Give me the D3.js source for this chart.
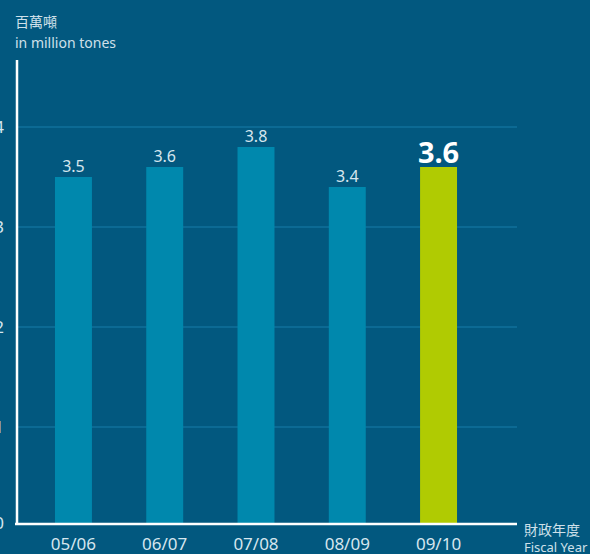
<!DOCTYPE html>
<html>
<head>
<meta charset="utf-8">
<script src="https://cdn.jsdelivr.net/npm/d3@7"></script>
<style>
  html, body { margin: 0; padding: 0; background: #02587f; }
  svg { display: block; font-family: "Noto Sans", "Noto Sans CJK TC", sans-serif; }
</style>
</head>
<body>
<svg width="590" height="554"></svg>
<script>
const years = ["05/06", "06/07", "07/08", "08/09", "09/10"];
const values = [3.5, 3.6, 3.8, 3.4, 3.6];
const yTicks = [0, 1, 2, 3, 4];

const svg = d3.select("svg");

const x = d3.scaleBand()
    .domain(years)
    .range([18, 494])
    .paddingInner(0.595)
    .paddingOuter(0.405);

const y = d3.scaleLinear()
    .domain([0, 4])
    .range([527, 127]);

// bars stop at the x axis line
svg.append("clipPath")
    .attr("id", "plot")
    .append("rect")
    .attr("x", 0).attr("y", 0)
    .attr("width", 590).attr("height", 523);

// grid lines
svg.append("g")
    .selectAll("line")
    .data(yTicks.filter(d => d > 0))
    .join("line")
    .attr("x1", 18)
    .attr("x2", 517)
    .attr("y1", d => y(d))
    .attr("y2", d => y(d))
    .attr("stroke", "#0c6a94")
    .attr("stroke-width", 2);

// y tick labels (mostly cut off at the left edge)
svg.append("g")
    .selectAll("text")
    .data(yTicks)
    .join("text")
    .attr("x", 4)
    .attr("y", d => Math.min(y(d), 523) + 6)
    .attr("text-anchor", "end")
    .attr("fill", "#d6e6ee")
    .attr("font-size", 17)
    .text(d => d);

// bars
svg.append("g")
    .attr("clip-path", "url(#plot)")
    .selectAll("rect")
    .data(values)
    .join("rect")
    .attr("x", (d, i) => x(years[i]))
    .attr("width", x.bandwidth())
    .attr("y", d => y(d))
    .attr("height", d => y(0) - y(d))
    .attr("fill", (d, i) => i === values.length - 1 ? "#b0cb02" : "#0088ad");

// value labels
svg.append("g")
    .selectAll("text")
    .data(values)
    .join("text")
    .attr("x", (d, i) => x(years[i]) + x.bandwidth() / 2)
    .attr("y", (d, i) => i === values.length - 1 ? y(d) - 4 : y(d) - 5)
    .attr("text-anchor", "middle")
    .attr("fill", (d, i) => i === values.length - 1 ? "#ffffff" : "#d6e6ee")
    .attr("font-size", (d, i) => i === values.length - 1 ? 29 : 16)
    .attr("font-weight", (d, i) => i === values.length - 1 ? "bold" : "normal")
    .text(d => d.toFixed(1));

// axes lines
svg.append("line")
    .attr("x1", 15).attr("x2", 517)
    .attr("y1", 524).attr("y2", 524)
    .attr("stroke", "#ffffff").attr("stroke-width", 2.5);
svg.append("line")
    .attr("x1", 17).attr("x2", 17)
    .attr("y1", 60).attr("y2", 525)
    .attr("stroke", "#ffffff").attr("stroke-width", 2.5);

// x labels
svg.append("g")
    .selectAll("text")
    .data(years)
    .join("text")
    .attr("x", d => x(d) + x.bandwidth() / 2)
    .attr("y", 550)
    .attr("text-anchor", "middle")
    .attr("fill", "#d6e6ee")
    .attr("font-size", 17)
    .text(d => d);

// axis titles
svg.append("text")
    .attr("x", 15).attr("y", 27)
    .attr("fill", "#cfe0ea").attr("font-size", 14)
    .attr("font-family", "Noto Sans CJK TC")
    .text("百萬噸");
svg.append("text")
    .attr("x", 15).attr("y", 48)
    .attr("fill", "#cfe0ea").attr("font-size", 14)
    .text("in million tones");
svg.append("text")
    .attr("x", 524).attr("y", 535)
    .attr("fill", "#cfe0ea").attr("font-size", 14)
    .attr("font-family", "Noto Sans CJK TC")
    .text("財政年度");
svg.append("text")
    .attr("x", 524).attr("y", 552)
    .attr("fill", "#cfe0ea").attr("font-size", 13)
    .text("Fiscal Year");
</script>
</body>
</html>
